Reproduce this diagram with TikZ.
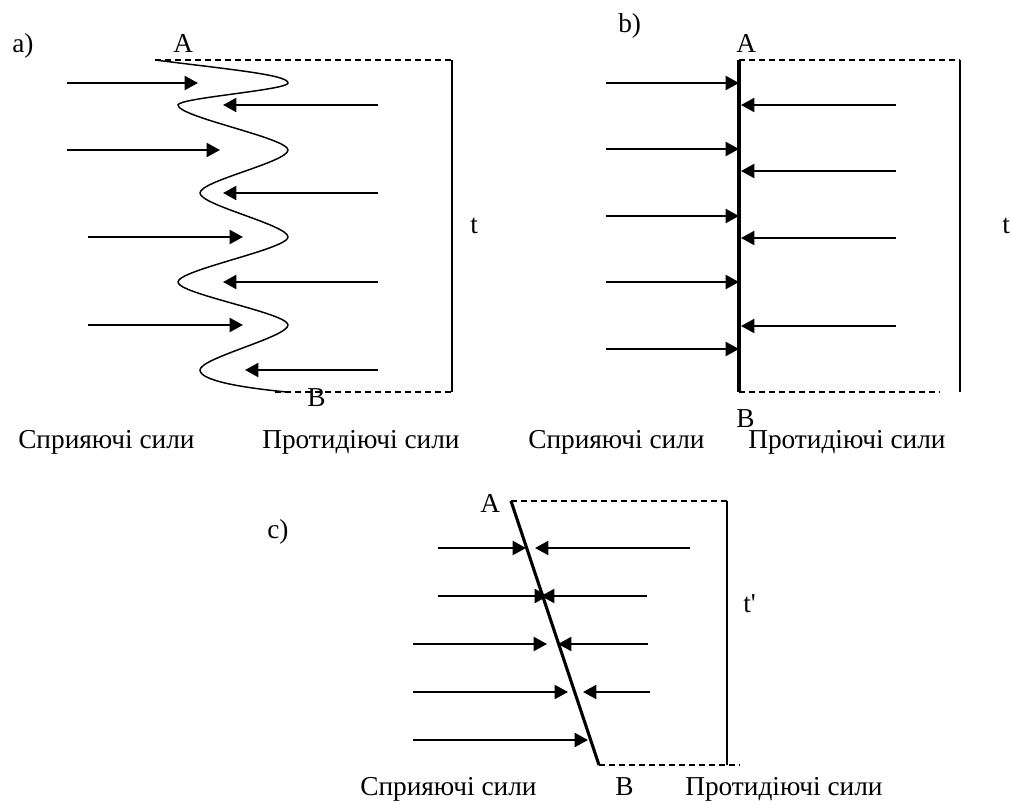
\documentclass[tikz,border=0pt]{standalone}
\usepackage{fontspec}
\setmainfont{Liberation Serif}
\usetikzlibrary{arrows.meta}

\begin{document}
\begin{tikzpicture}[
  x=0.75pt, y=-0.75pt,
  force/.style={-{Triangle[length=10pt,width=10.5pt]}, line width=1.5pt},
  wall/.style={line width=2.3pt},
  wave/.style={line width=1.1pt},
  bound/.style={dashed, dash pattern=on 4.5pt off 3pt, line width=1pt},
  span/.style={line width=1.2pt},
  lbl/.style={anchor=base west, inner sep=0pt, font=\fontsize{20.5}{24}\selectfont}
]
\useasboundingbox (0,0) rectangle (1011,801);

% ── Panel a): wavy interface ─────────────────────────────────────────────────
\node[lbl] (capa) at (12,52)  {a)};
\node[lbl] (aA)   at (173,52) {A};
\node[lbl] (aB)   at (307,406) {B};
\node[lbl] (at)   at (470,233) {t};
\node[lbl] (apro) at (18,448)  {Сприяючі сили};
\node[lbl] (acon) at (262,448) {Протидіючі сили};

\draw[wave] (155,60) .. controls (235,70) and (288,75) .. (288,83)
  .. controls (288,90) and (178,98) .. (178,105)
  .. controls (178,117) and (288,138) .. (288,150)
  .. controls (288,162) and (200,181) .. (200,193)
  .. controls (200,205) and (288,225) .. (288,237)
  .. controls (288,249) and (178,270) .. (178,282)
  .. controls (178,294) and (288,313) .. (288,325)
  .. controls (288,337) and (200,358) .. (200,370)
  .. controls (200,381) and (245,388) .. (287,392);
\draw[bound] (155,60) -- (452,60);
\draw[bound] (275,392) -- (452,392);
\draw[span]  (452,60) -- (452,392);

\draw[force] (67,83)   -- (198,83);
\draw[force] (67,150)  -- (220,150);
\draw[force] (88,237)  -- (243,237);
\draw[force] (88,325)  -- (243,325);
\draw[force] (378,105) -- (223,105);
\draw[force] (378,193) -- (223,193);
\draw[force] (378,282) -- (223,282);
\draw[force] (378,370) -- (245,370);

% ── Panel b): straight interface ─────────────────────────────────────────────
\node[lbl] (capb) at (618,32)  {b)};
\node[lbl] (bA)   at (736,52)  {A};
\node[lbl] (bB)   at (736,427) {B};
\node[lbl] (bt)   at (1002,233) {t};
\node[lbl] (bpro) at (528,448) {Сприяючі сили};
\node[lbl] (bcon) at (748,448) {Протидіючі сили};

\draw[wall]  (739,60) -- (739,392);
\draw[bound] (739,60) -- (960,60);
\draw[bound] (739,392) -- (940,392);
\draw[span]  (960,60) -- (960,392);

\draw[force] (606,83)  -- (739,83);
\draw[force] (606,149) -- (739,149);
\draw[force] (606,216) -- (739,216);
\draw[force] (606,282) -- (739,282);
\draw[force] (606,349) -- (739,349);
\draw[force] (896,105) -- (741,105);
\draw[force] (896,171) -- (741,171);
\draw[force] (896,238) -- (741,238);
\draw[force] (896,326) -- (741,326);

% ── Panel c): inclined interface ─────────────────────────────────────────────
\node[lbl] (capc) at (267,538) {c)};
\node[lbl] (cA)   at (480,512) {A};
\node[lbl] (cB)   at (615,795) {B};
\node[lbl] (ct)   at (743,612) {t\textquotesingle};
\node[lbl] (cpro) at (360,795) {Сприяючі сили};
\node[lbl] (ccon) at (685,795) {Протидіючі сили};

\draw[wall]  (511,501) -- (599,765);
\draw[bound] (511,501) -- (727,501);
\draw[bound] (599,765) -- (740,765);
\draw[span]  (727,501) -- (727,765);

\draw[force] (438,548) -- (526,548);
\draw[force] (438,596) -- (548,596);
\draw[force] (413,644) -- (547,644);
\draw[force] (413,692) -- (568,692);
\draw[force] (413,740) -- (588,740);
\draw[force] (690,548) -- (535,548);
\draw[force] (647,596) -- (541,596);
\draw[force] (648,644) -- (558,644);
\draw[force] (650,692) -- (583,692);
\end{tikzpicture}
\end{document}
